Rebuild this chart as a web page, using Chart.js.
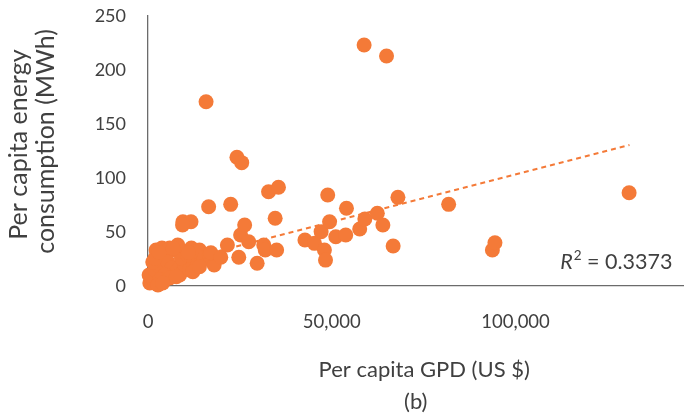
<!DOCTYPE html>
<html lang="en">
<head>
<meta charset="UTF-8">
<title>Per capita energy consumption vs GDP</title>
<script src="https://cdn.jsdelivr.net/npm/chart.js@4.4.0/dist/chart.umd.min.js"></script>
<style>
    html, body { margin: 0; padding: 0; background: #fff; }
    #wrap { width: 691px; height: 418px; }
</style>
</head>
<body>
<div id="wrap"><canvas id="graph" width="691" height="418"></canvas></div>
<script>
    // Per capita GDP (US $) and per capita energy consumption (MWh), one entry per country
    const gdp = [
        500, 1100, 300, 1900, 2700, 1300, 3200, 4600, 2200, 3800,
        5900, 7300, 5400, 6500, 8100, 4600, 3200, 5900, 8600, 10000,
        9100, 10800, 11800, 8100, 14000, 12600, 11300, 13400, 15300, 16700,
        17200, 18000, 2700, 4000, 7700, 1900, 3000, 6800, 11000, 12200,
        14000, 17100, 19800, 21600, 24700, 29700, 31500, 31900, 35000, 25200,
        26300, 27400, 34600, 32800, 35500, 22500, 16500, 9500, 11700, 9400,
        24200, 25500, 15800, 42700, 45300, 48000, 48300, 47100, 49400, 48900,
        51100, 53800, 54000, 57600, 59000, 62400, 63900, 66700, 68000, 81800,
        93700, 94400, 130900, 58800, 64900
    ];
    const energy = [
        2.8, 7.4, 10.2, 14.8, 19.4, 22.2, 25.9, 28.7, 33.3, 35.2,
        35.2, 33.3, 22.2, 16.7, 14.8, 10.2, 5.6, 7.4, 10.2, 19.4,
        25.9, 28.7, 35.2, 38, 33.3, 22.2, 14.8, 18.5, 25.9, 28.7,
        24.1, 19.4, 0.9, 2.8, 8.6, 25.6, 31, 34.9, 31, 13.2,
        17.9, 30.8, 26.6, 38, 26.6, 21, 38, 33.3, 33.3, 47.2,
        56.5, 41, 62.7, 87.3, 91.4, 75.6, 73.4, 59.5, 59.5, 56.5,
        119.2, 114.2, 170.6, 42.6, 39.5, 33.3, 24, 50.3, 59.5, 84.3,
        45.6, 47.2, 72, 52.8, 62, 67.3, 56.5, 37, 82.1, 75.6,
        33.3, 40.1, 86.4, 223.1, 213
    ];

    // Linear trendline
    const trendGdp = [300, 131000];
    const trendEnergy = [15.8, 130.5];
    const rSquared = '0.3373';

    const xTicks = [0, 50000, 100000];
    const yTicks = [0, 50, 100, 150, 200, 250];

    const orange = '#F47A38';
    const textColor = '#404040';
    const axisColor = '#6b6b6b';
    const fontFamily = 'Lato, "Open Sans", sans-serif';

    const points = gdp.map((g, i) => ({ x: g, y: energy[i] }));
    const trend = trendGdp.map((g, i) => ({ x: g, y: trendEnergy[i] }));

    // R² label in the lower right corner of the plot
    const r2Label = {
        id: 'r2Label',
        afterDatasetsDraw(chart) {
            const { ctx, chartArea } = chart;
            const big = '21.5px ' + fontFamily;
            const small = '13.5px ' + fontFamily;
            const rest = ' = ' + rSquared;
            ctx.save();
            ctx.fillStyle = textColor;
            ctx.textBaseline = 'alphabetic';
            ctx.textAlign = 'left';
            ctx.font = big;
            const wRest = ctx.measureText(rest).width;
            ctx.font = small;
            const wSup = ctx.measureText('2').width;
            ctx.font = 'italic ' + big;
            const wR = ctx.measureText('R').width;
            const y = chartArea.bottom - 17;
            let x = chartArea.right - 11 - wRest - wSup - wR - 1;
            ctx.fillText('R', x, y);
            x += wR + 1;
            ctx.font = small;
            ctx.fillText('2', x, y - 9);
            x += wSup;
            ctx.font = big;
            ctx.fillText(rest, x, y);
            ctx.restore();
        }
    };

    const ctx = document.getElementById('graph').getContext('2d');
    const chart = new Chart(ctx, {
        type: 'scatter',
        data: {
            datasets: [
                {
                    label: 'Countries',
                    data: points,
                    backgroundColor: orange,
                    borderWidth: 0,
                    pointRadius: 7.5,
                    pointHoverRadius: 7.5,
                    clip: false
                },
                {
                    type: 'line',
                    label: 'Trend',
                    data: trend,
                    borderColor: orange,
                    borderWidth: 2,
                    borderDash: [5, 4],
                    pointRadius: 0,
                    fill: false,
                    tension: 0
                }
            ]
        },
        options: {
            responsive: false,
            animation: false,
            events: [],
            layout: { padding: { top: 16, right: 1, left: 0, bottom: 0 } },
            plugins: {
                legend: { display: false },
                tooltip: { enabled: false }
            },
            scales: {
                x: {
                    type: 'linear',
                    min: 0,
                    max: 145700,
                    afterBuildTicks: s => { s.ticks = xTicks.map(v => ({ value: v })); },
                    afterFit: s => {
                        s.height = 132;
                        s.paddingLeft = 0;
                        s.paddingRight = 0;
                    },
                    grid: { display: false, drawTicks: false },
                    border: { display: true, color: axisColor, width: 1.3 },
                    ticks: {
                        autoSkip: false,
                        maxRotation: 0,
                        padding: 25,
                        color: textColor,
                        font: { family: fontFamily, size: 18.5 },
                        callback: v => v.toLocaleString('en-US')
                    },
                    title: {
                        display: true,
                        text: ['   Per capita GPD (US $)', '(b)'],
                        color: textColor,
                        font: { family: fontFamily, size: 22, lineHeight: '32px' },
                        padding: { top: 0, bottom: 0 }
                    }
                },
                y: {
                    min: 0,
                    max: 250,
                    afterBuildTicks: s => { s.ticks = yTicks.map(v => ({ value: v })); },
                    afterFit: s => {
                        s.width = 148;
                        // keep the tick padding from pushing the plot area down
                        s.paddingTop = 0;
                        s.paddingBottom = 0;
                    },
                    grid: { display: false, drawTicks: false },
                    border: { display: true, color: axisColor, width: 1.3 },
                    ticks: {
                        padding: 22,
                        color: textColor,
                        font: { family: fontFamily, size: 18 }
                    },
                    title: {
                        display: true,
                        text: ['  Per capita energy', '   consumption (MWh)'],
                        color: textColor,
                        font: { family: fontFamily, size: 25, lineHeight: '27px' },
                        padding: { top: 5, bottom: 0 }
                    }
                }
            }
        },
        plugins: [r2Label]
    });
</script>
</body>
</html>
